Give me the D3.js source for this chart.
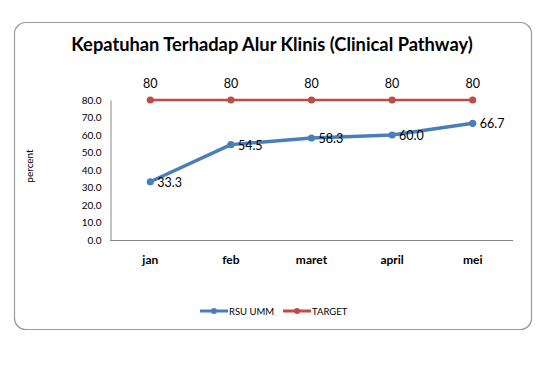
<!DOCTYPE html>
<html>
<head>
<meta charset="utf-8">
<script src="https://cdn.jsdelivr.net/npm/d3@7"></script>
<style>
  body { margin: 0; background: #fff; }
  text { font-family: Lato, "Open Sans", sans-serif; fill: #000; }
</style>
</head>
<body>
<div id="chart"></div>
<script>
var months = ["jan", "feb", "maret", "april", "mei"];
var rsuValues = [33.3, 54.5, 58.3, 60.0, 66.7];
var targetValues = [80, 80, 80, 80, 80];
var yTicks = [0, 10, 20, 30, 40, 50, 60, 70, 80];

var blue = "#4a7ebb";
var red = "#be4b48";

var svg = d3.select("#chart").append("svg")
  .attr("width", 560)
  .attr("height", 370);

// chart border
svg.append("rect")
  .attr("x", 14.5).attr("y", 22.5)
  .attr("width", 517).attr("height", 307)
  .attr("rx", 11)
  .attr("fill", "#fff")
  .attr("stroke", "#9a9a9a")
  .attr("stroke-width", 1.2);

svg.append("text")
  .attr("x", 272).attr("y", 51)
  .attr("text-anchor", "middle")
  .style("font-size", "18.3px")
  .style("font-weight", "bold")
  .text("Kepatuhan Terhadap Alur Klinis (Clinical Pathway)");

var x = d3.scalePoint()
  .domain(months)
  .range([110, 513])
  .padding(0.5);

var y = d3.scaleLinear()
  .domain([0, 80])
  .range([240, 100]);

// axes
var yAxis = svg.append("g")
  .attr("transform", "translate(110.5,0)")
  .call(d3.axisLeft(y).tickValues(yTicks).tickSize(0).tickPadding(9).tickFormat(d3.format(".1f")));
yAxis.select(".domain").attr("stroke", "#868686");
yAxis.selectAll("text").style("font-size", "10px").style("font-family", "Lato, sans-serif");

svg.append("line")
  .attr("x1", 110).attr("x2", 513)
  .attr("y1", 240.5).attr("y2", 240.5)
  .attr("stroke", "#868686");

svg.selectAll(".mlabel")
  .data(months)
  .enter().append("text")
  .attr("class", "mlabel")
  .attr("x", d => x(d))
  .attr("y", 264)
  .attr("text-anchor", "middle")
  .style("font-size", "12px")
  .style("font-weight", "bold")
  .text(d => d);

svg.append("text")
  .attr("transform", "translate(33,166) rotate(-90)")
  .attr("text-anchor", "middle")
  .style("font-size", "10px")
  .text("percent");

var line = d3.line()
  .x((d, i) => x(months[i]))
  .y(d => y(d));

function drawSeries(values, color, width) {
  svg.append("path")
    .datum(values)
    .attr("d", line)
    .attr("fill", "none")
    .attr("stroke", color)
    .attr("stroke-width", width)
    .attr("stroke-linejoin", "round");
  svg.selectAll(null)
    .data(values)
    .enter().append("circle")
    .attr("cx", (d, i) => x(months[i]))
    .attr("cy", d => y(d))
    .attr("r", 3.6)
    .attr("fill", color);
}

drawSeries(targetValues, red, 2.5);
drawSeries(rsuValues, blue, 3.5);

svg.selectAll(".tlabel")
  .data(targetValues)
  .enter().append("text")
  .attr("x", (d, i) => x(months[i]))
  .attr("y", d => y(d) - 12)
  .attr("text-anchor", "middle")
  .style("font-size", "12.5px")
  .text(d => d);

svg.selectAll(".rlabel")
  .data(rsuValues)
  .enter().append("text")
  .attr("x", (d, i) => x(months[i]) + 7)
  .attr("y", d => y(d) + 5)
  .style("font-size", "12.5px")
  .text(d => d.toFixed(1));

// legend
var legend = [
  {name: "RSU UMM", color: blue, x: 200},
  {name: "TARGET", color: red, x: 283}
];
var lg = svg.selectAll(".legend")
  .data(legend)
  .enter().append("g")
  .attr("transform", d => "translate(" + d.x + ",311)");
lg.append("line")
  .attr("x1", 0).attr("x2", 28)
  .attr("stroke", d => d.color)
  .attr("stroke-width", 3);
lg.append("circle")
  .attr("cx", 14).attr("r", 3)
  .attr("fill", d => d.color);
lg.append("text")
  .attr("x", 29).attr("y", 3.5)
  .style("font-size", "9.5px")
  .text(d => d.name);
</script>
</body>
</html>
